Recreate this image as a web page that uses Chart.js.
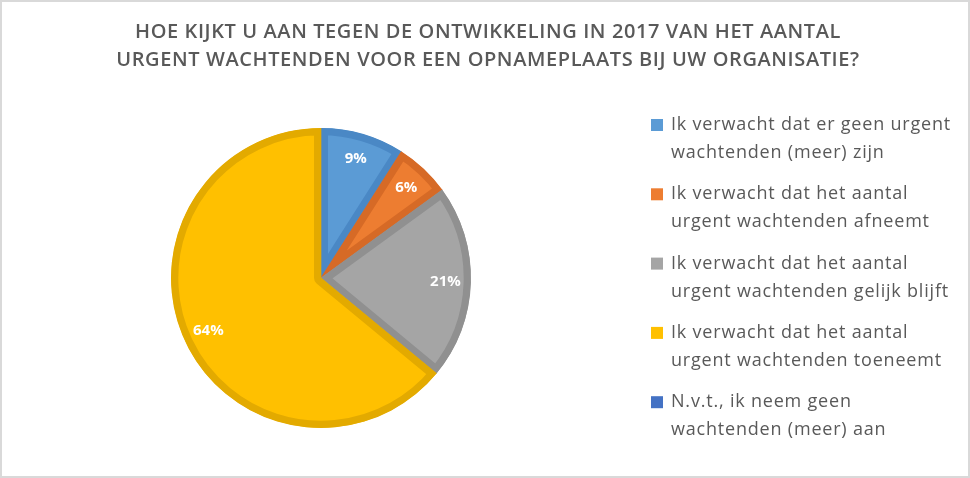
<!DOCTYPE html>
<html>
<head>
<meta charset="utf-8">
<script src="https://cdn.jsdelivr.net/npm/chart.js@4.4.1/dist/chart.umd.min.js"></script>
<style>
html,body{margin:0;padding:0;background:#fff;overflow:hidden;}
canvas{display:block;}
</style>
</head>
<body>
<canvas id="c" width="970" height="478"></canvas>
<script>
const titleLines = [
  "HOE KIJKT U AAN TEGEN DE ONTWIKKELING IN 2017 VAN HET AANTAL",
  "URGENT WACHTENDEN VOOR EEN OPNAMEPLAATS BIJ UW ORGANISATIE?"
];
const categories = [
  ["Ik verwacht dat er geen urgent", "wachtenden (meer) zijn"],
  ["Ik verwacht dat het aantal", "urgent wachtenden afneemt"],
  ["Ik verwacht dat het aantal", "urgent wachtenden gelijk blijft"],
  ["Ik verwacht dat het aantal", "urgent wachtenden toeneemt"],
  ["N.v.t., ik neem geen", "wachtenden (meer) aan"]
];
const percentages = [9, 6, 21, 64, 0];
const fillColors = ["#5B9BD5", "#ED7D31", "#A5A5A5", "#FFC000", "#4472C4"];
const borderColors = ["#4A88C5", "#D66A26", "#909090", "#E3AA00", "#3B63AE"];

const FONT = "'Open Sans', 'DejaVu Sans', sans-serif";

const decorPlugin = {
  id: 'decor',
  afterDraw(chart) {
    const ctx = chart.ctx;
    ctx.save();
    // frame
    ctx.strokeStyle = '#D9D9D9';
    ctx.lineWidth = 2;
    ctx.strokeRect(1, 1, chart.width - 2, chart.height - 2);
    // title
    ctx.fillStyle = '#595959';
    ctx.font = "600 20px " + FONT;
    ctx.letterSpacing = '0.6px';
    ctx.textAlign = 'center';
    ctx.textBaseline = 'middle';
    titleLines.forEach((t, i) => ctx.fillText(t, 488, 32 + i * 28));
    // legend
    ctx.textAlign = 'left';
    ctx.font = "18px " + FONT;
    ctx.letterSpacing = '0.8px';
    const x0 = 651, y0 = 125, pitch = 69.3, lineH = 28;
    categories.forEach((lines, i) => {
      const y = y0 + i * pitch;
      ctx.fillStyle = fillColors[i];
      ctx.fillRect(x0, y - 6, 12, 12);
      ctx.fillStyle = '#595959';
      lines.forEach((l, j) => ctx.fillText(l, x0 + 20, y + j * lineH));
    });
    // data labels
    const meta = chart.getDatasetMeta(0);
    ctx.textAlign = 'center';
    ctx.letterSpacing = '0px';
    ctx.font = "bold 15px " + FONT;
    ctx.fillStyle = '#FFFFFF';
    meta.data.forEach((arc, i) => {
      if (!percentages[i]) return;
      const p = arc.getProps(['x','y','startAngle','endAngle','outerRadius'], true);
      const mid = (p.startAngle + p.endAngle) / 2;
      const r = p.outerRadius * 0.83;
      ctx.fillText(percentages[i] + '%', p.x + Math.cos(mid) * r, p.y + Math.sin(mid) * r);
    });
    ctx.restore();
  }
};

new Chart(document.getElementById('c'), {
  type: 'pie',
  data: {
    labels: categories.map(l => l.join(' ')),
    datasets: [{
      data: percentages,
      backgroundColor: fillColors,
      borderColor: borderColors,
      borderWidth: 7,
      borderAlign: 'inner'
    }]
  },
  options: {
    responsive: false,
    devicePixelRatio: 1,
    animation: false,
    radius: 150,
    layout: { padding: { left: 21, right: 349, top: 118, bottom: 40 } },
    plugins: {
      legend: { display: false },
      title: { display: false },
      tooltip: { enabled: false }
    }
  },
  plugins: [decorPlugin]
});
</script>
</body>
</html>
